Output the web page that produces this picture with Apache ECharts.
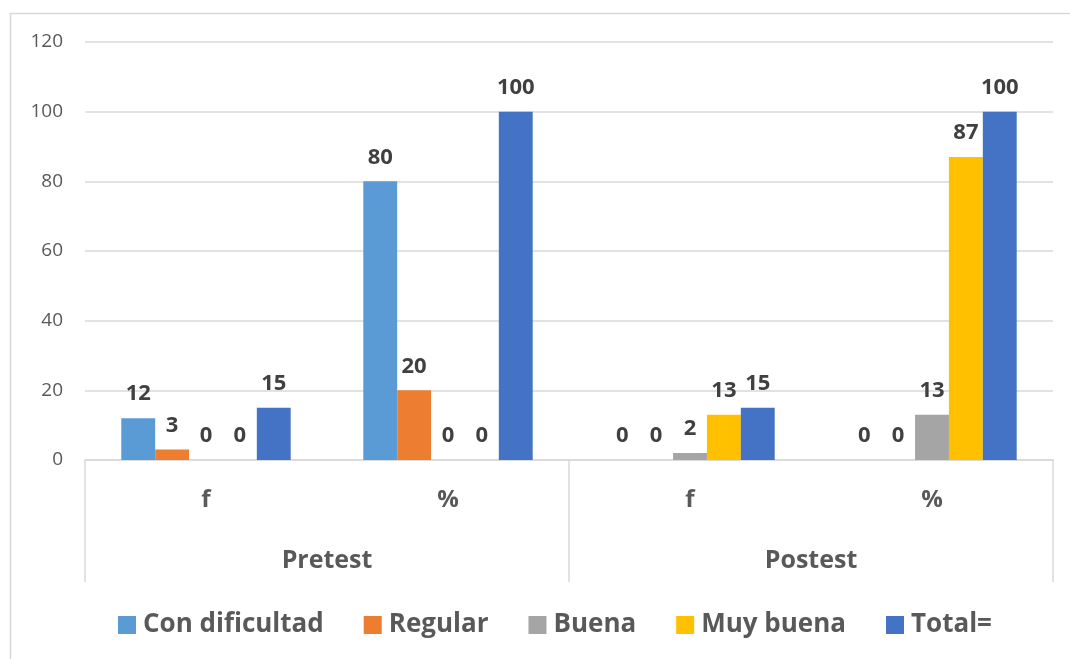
<!DOCTYPE html>
<html><head><meta charset="utf-8">
<script src="https://cdn.jsdelivr.net/npm/echarts@6/dist/echarts.min.js"></script>
<style>html,body{margin:0;padding:0;background:#fff}#c{width:1070px;height:659px}</style>
</head><body><div id="c"></div>
<script>
const categories = ['f', '%', 'f', '%'];
const groups = ['Pretest', 'Postest'];
const seriesNames = ['Con dificultad', 'Regular', 'Buena', 'Muy buena', 'Total='];
const conDificultad = [12, 80, 0, 0];
const regular = [3, 20, 0, 0];
const buena = [0, 0, 2, 13];
const muyBuena = [0, 0, 13, 87];
const total = [15, 100, 15, 100];
const yTicks = [0, 20, 40, 60, 80, 100, 120];

const colors = ['#5b9bd5', '#ed7d31', '#a5a5a5', '#ffc000', '#4472c4'];
const values = [conDificultad, regular, buena, muyBuena, total];
const FONT = '"Open Sans", "Liberation Sans", sans-serif';

const chart = echarts.init(document.getElementById('c'), null, {renderer: 'canvas'});
chart.setOption({
  animation: false,
  color: colors,
  textStyle: {fontFamily: FONT},
  graphic: [{
    type: 'rect', left: 8, top: 11, silent: true,
    shape: {width: 1100, height: 700},
    style: {fill: 'none', stroke: '#d9d9d9', lineWidth: 1.5}
  }],
  grid: {left: 85, right: 17, top: 42, bottom: 199, containLabel: false},
  legend: {
    bottom: 16, left: 113,
    itemWidth: 18, itemHeight: 18, itemGap: 40,
    icon: 'rect',
    textStyle: {fontSize: 26, fontWeight: 'bold', color: '#595959', fontFamily: FONT, padding: [0, 0, 0, 2]},
    data: seriesNames
  },
  xAxis: [{
    type: 'category', data: categories, position: 'bottom',
    axisLine: {show: true, lineStyle: {color: '#d9d9d9', width: 1.5}},
    axisTick: {show: false},
    axisLabel: {fontSize: 24, fontWeight: 'bold', color: '#595959', margin: 28, fontFamily: FONT}
  }, {
    type: 'category', data: groups, position: 'bottom',
    axisLine: {show: false},
    axisTick: {show: true, length: 122, lineStyle: {color: '#d9d9d9', width: 1.5}},
    axisLabel: {fontSize: 25, fontWeight: 'bold', color: '#595959', margin: 88, fontFamily: FONT},
    splitLine: {show: false}
  }],
  yAxis: {
    type: 'value', min: 0, max: 120, interval: 20,
    axisLine: {show: false}, axisTick: {show: false},
    axisLabel: {fontSize: 19, color: '#595959', margin: 22, fontFamily: FONT,
      formatter: v => yTicks.includes(v) ? String(v) : ''},
    splitLine: {lineStyle: {color: '#d9d9d9', width: 1.5}}
  },
  series: seriesNames.map((name, i) => ({
    name, type: 'bar', xAxisIndex: 0, data: values[i],
    barGap: '0%', barCategoryGap: '30%',
    itemStyle: {color: colors[i]},
    label: {show: true, position: 'top', distance: 13, fontSize: 22, fontWeight: 'bold', color: '#404040', fontFamily: FONT}
  }))
});
</script></body></html>
